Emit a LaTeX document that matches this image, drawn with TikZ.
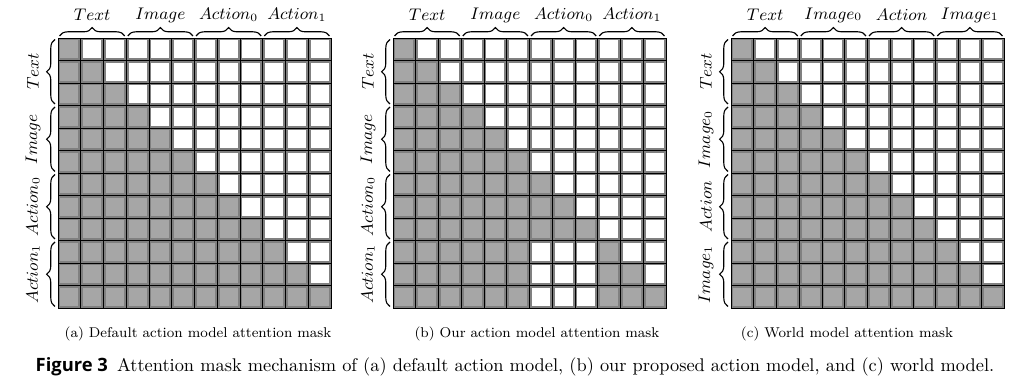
\documentclass[tikz,border=0pt]{standalone}
\usepackage{fontspec}
\newfontfamily\figfont{Open Sans}
\usetikzlibrary{decorations.pathreplacing}

\definecolor{maskgray}{RGB}{166,166,166}
\definecolor{rimgray}{RGB}{128,128,128}

\tikzset{
    cell/.style={draw=black, line width=0.35pt},
    cellrim/.style={draw=rimgray, line width=1.1pt},
    groupbrace/.style={decorate, decoration={brace, amplitude=4.5pt}, line width=0.6pt},
    grouplabel/.style={font=\fontsize{8.7}{9}\selectfont, inner sep=0pt},
    subcap/.style={font=\fontsize{7.6}{9}\selectfont, inner sep=0pt}
}

% cells of one mask: #1 = x offset, #2 = 1 if Action_1 cannot see Action_0
\newcommand{\maskcells}[2]{%
    \foreach \r in {0,...,11}{
        \foreach \c in {0,...,11}{
            \pgfmathtruncatemacro{\on}{(\c<=\r)*(1-#2*(\r>8)*(\c>5)*(\c<9))}
            \ifnum\on=1 \def\cellfill{maskgray}\else\def\cellfill{white}\fi
            \fill[\cellfill] (#1+\c*22.75, 38+\r*22.5) rectangle ++(22.75,22.5);
            \draw[cellrim] (#1+\c*22.75+1.4, 38+\r*22.5+1.4) rectangle ++(19.95,19.7);
            \draw[cell] (#1+\c*22.75, 38+\r*22.5) rectangle ++(22.75,22.5);
        }
    }
}

% braces and group names: #1 = x offset, #2 = panel, #3 = groups
\newcommand{\maskgroups}[3]{%
    \foreach \g/\name in {#3}{
        \draw[groupbrace] (#1+\g*68.25+1.5, 36) -- (#1+\g*68.25+66.75, 36);
        \node[grouplabel] (#2-top-\g) at (#1+\g*68.25+34.1, 15) {$\name$};
        \draw[groupbrace] (#1-3, 38+\g*67.5+66) -- (#1-3, 38+\g*67.5+1.5);
        \node[grouplabel, rotate=90] (#2-side-\g) at (#1-25, 38+\g*67.5+33.75) {$\name$};
    }
}

\begin{document}
\begin{tikzpicture}[x=0.01885cm, y=-0.01885cm]
    \useasboundingbox (0,0) rectangle (1024,389);

    % (a) default action model
    \maskcells{58}{0}
    \maskgroups{58}{a}{0/Text,1/Image,2/Action_0,3/Action_1}

    % (b) our action model
    \maskcells{393}{1}
    \maskgroups{393}{b}{0/Text,1/Image,2/Action_0,3/Action_1}

    % (c) world model
    \maskcells{731}{0}
    \maskgroups{731}{c}{0/Text,1/Image_0,2/Action,3/Image_1}

    % Captions
    \node[subcap] (cap-a) at (198,334) {(a) Default action model attention mask};
    \node[subcap] (cap-b) at (537,334) {(b) Our action model attention mask};
    \node[subcap] (cap-c) at (847,334) {(c) World model attention mask};
    \node[inner sep=0pt, font=\fontsize{9.85}{12}\selectfont] (fig-cap) at (515,367) {{\figfont\bfseries Figure 3}\enspace Attention mask mechanism of (a) default action model, (b) our proposed action model, and (c) world model.};

\end{tikzpicture}
\end{document}
